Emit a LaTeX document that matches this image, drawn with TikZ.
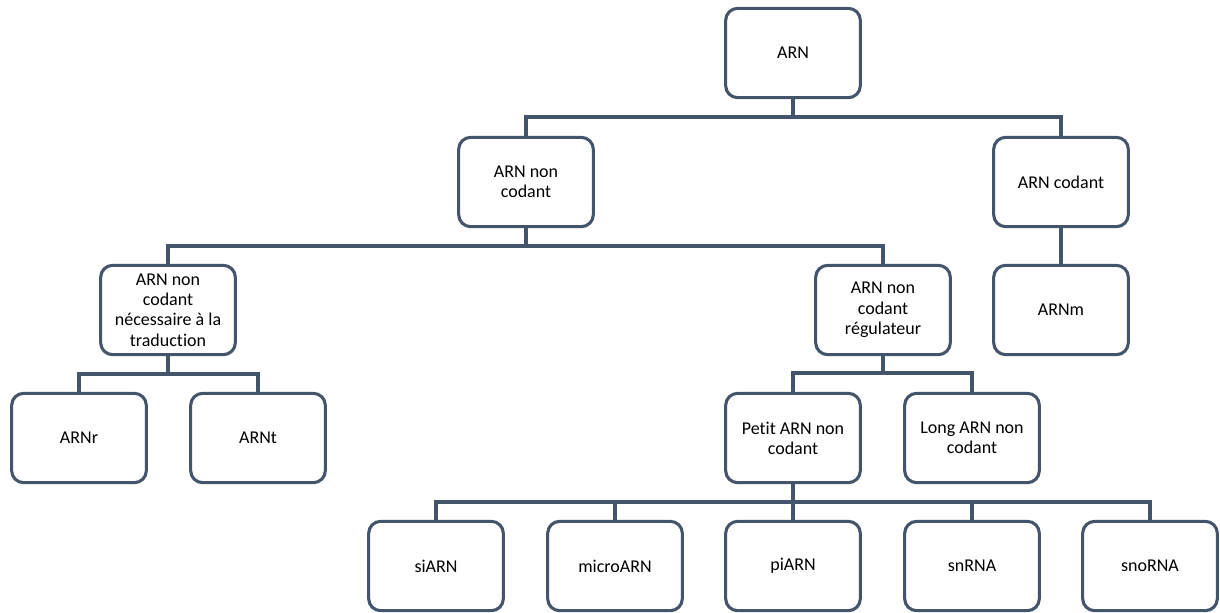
\documentclass[tikz,border=0pt]{standalone}
\usepackage{fontspec}
\setmainfont{Carlito}[Ligatures=NoCommon]
\definecolor{rnablue}{HTML}{44546A}
\tikzset{
  rnabox/.style={draw=rnablue,line width=2.3pt,rounded corners=9pt,fill=white,
    minimum width=101pt,minimum height=67pt,inner sep=2pt,align=center,
    font=\fontsize{13.5}{15.2}\selectfont},
  link/.style={draw=rnablue,line width=2.3pt}
}
\begin{document}
\begin{tikzpicture}[x=0.75pt,y=-0.75pt]
		\useasboundingbox (0,0) rectangle (1220,612);
		% niveau 1 et 2
		\node[rnabox] (arn) at (793,53) {ARN};
		\node[rnabox] (noncod) at (526,182) {ARN non\\codant};
		\node[rnabox] (cod) at (1061,182) {ARN codant};
		% niveau 3
		\node[rnabox] (trad) at (168,310) {ARN non\\codant\\n\'ecessaire \`a la\\traduction};
		\node[rnabox] (regul) at (883,310) {ARN non\\codant\\r\'egulateur};
		\node[rnabox] (arnm) at (1061,310) {ARNm};
		% niveau 4
		\node[rnabox] (arnr) at (79,438) {ARNr};
		\node[rnabox] (arnt) at (258,438) {ARNt};
		\node[rnabox] (petit) at (793,438) {Petit ARN non\\codant};
		\node[rnabox] (long) at (972,438) {Long ARN non\\codant};
		% niveau 5
		\node[rnabox] (si) at (436,566) {siARN};
		\node[rnabox] (micro) at (615,566) {microARN};
		\node[rnabox] (pi) at (793,566) {piARN};
		\node[rnabox] (sn) at (972,566) {snRNA};
		\node[rnabox] (sno) at (1150,566) {snoRNA};
		% liaisons
		\coordinate (j1) at (793,117);
		\coordinate (j2) at (526,246);
		\coordinate (j3) at (168,374);
		\coordinate (j4) at (883,373);
		\coordinate (j5) at (793,502);
		\draw[link] (arn.south) -- (j1) -| (noncod.north);
		\draw[link] (j1) -| (cod.north);
		\draw[link] (noncod.south) -- (j2) -| (trad.north);
		\draw[link] (j2) -| (regul.north);
		\draw[link] (cod.south) -- (arnm.north);
		\draw[link] (trad.south) -- (j3) -| (arnr.north);
		\draw[link] (j3) -| (arnt.north);
		\draw[link] (regul.south) -- (j4) -| (petit.north);
		\draw[link] (j4) -| (long.north);
		\draw[link] (petit.south) -- (j5) -| (si.north);
		\draw[link] (j5) -| (micro.north);
		\draw[link] (j5) -- (pi.north);
		\draw[link] (j5) -| (sn.north);
		\draw[link] (j5) -| (sno.north);
\end{tikzpicture}
\end{document}
